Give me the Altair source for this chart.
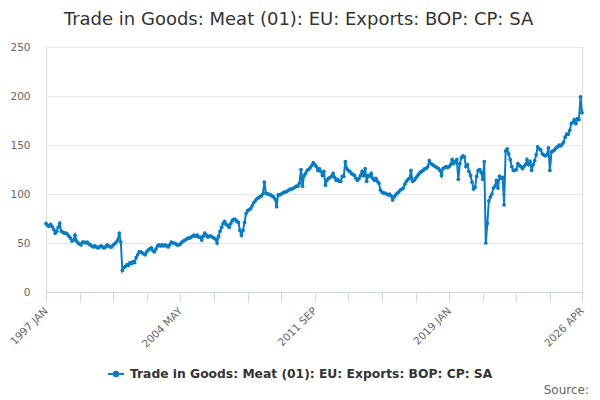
import altair as alt
import pandas as pd

TITLE = "Trade in Goods: Meat (01): EU: Exports: BOP: CP: SA"
SERIES = "Trade in Goods: Meat (01): EU: Exports: BOP: CP: SA"
SOURCE = "Source:"
MONTHS = ["JAN", "FEB", "MAR", "APR", "MAY", "JUN", "JUL", "AUG", "SEP", "OCT", "NOV", "DEC"]
LABELLED = ["1997 JAN", "2004 MAY", "2011 SEP", "2019 JAN", "2026 APR"]
Y_TICKS = [0, 50, 100, 150, 200, 250]

# monthly values
y1997 = [70, 68, 67, 69, 67, 64, 60, 62, 66, 70, 62, 61]
y1998 = [60, 60, 59, 57, 55, 52, 53, 58, 52, 50, 49, 48]
y1999 = [51, 51, 50, 51, 49, 48, 47, 46, 47, 46, 45, 46]
y2000 = [47, 46, 45, 46, 48, 47, 46, 46, 48, 49, 51, 53]
y2001 = [60, 51, 22, 25, 26, 28, 27, 30, 29, 31, 30, 35]
y2002 = [38, 41, 41, 40, 39, 38, 41, 43, 44, 45, 42, 41]
y2003 = [44, 47, 48, 47, 48, 47, 48, 47, 46, 48, 51, 50]
y2004 = [50, 49, 48, 48, 49, 51, 52, 53, 54, 55, 55, 56]
y2005 = [57, 58, 57, 58, 56, 56, 53, 57, 60, 58, 56, 57]
y2006 = [57, 56, 55, 54, 50, 57, 62, 66, 70, 72, 69, 68]
y2007 = [66, 70, 73, 74, 74, 72, 71, 63, 58, 63, 71, 80]
y2008 = [83, 84, 85, 88, 91, 93, 95, 96, 97, 98, 100, 112]
y2009 = [101, 100, 100, 99, 98, 97, 95, 87, 99, 99, 100, 101]
y2010 = [102, 102, 103, 104, 105, 105, 106, 107, 108, 108, 111, 125]
y2011 = [108, 119, 121, 124, 125, 127, 129, 132, 130, 128, 124, 126]
y2012 = [123, 119, 123, 109, 114, 116, 117, 118, 121, 117, 114, 115]
y2013 = [113, 113, 118, 118, 133, 126, 124, 123, 121, 120, 119, 116]
y2014 = [114, 116, 119, 123, 119, 126, 113, 119, 118, 121, 116, 114]
y2015 = [116, 113, 111, 104, 102, 101, 101, 100, 99, 100, 98, 94]
y2016 = [97, 99, 101, 102, 104, 105, 106, 110, 113, 115, 116, 124]
y2017 = [113, 114, 116, 118, 120, 122, 123, 124, 126, 126, 128, 134]
y2018 = [131, 130, 129, 128, 127, 126, 124, 119, 126, 127, 128, 127]
y2019 = [128, 130, 135, 131, 133, 135, 115, 131, 137, 139, 138, 128]
y2020 = [130, 123, 119, 112, 105, 107, 118, 124, 125, 122, 115, 133]
y2021 = [50, 70, 93, 97, 100, 106, 108, 114, 106, 118, 116, 117]
y2022 = [89, 144, 146, 141, 135, 128, 124, 124, 125, 131, 129, 128]
y2023 = [126, 128, 130, 135, 130, 133, 124, 130, 134, 140, 148, 146]
y2024 = [145, 141, 140, 139, 140, 147, 124, 143, 144, 145, 147, 148]
y2025 = [150, 149, 151, 153, 158, 161, 161, 165, 172, 173, 176, 172]
y2026 = [177, 176, 199, 183]

values = (y1997 + y1998 + y1999 + y2000 + y2001 + y2002 + y2003 + y2004 + y2005 + y2006
          + y2007 + y2008 + y2009 + y2010 + y2011 + y2012 + y2013 + y2014 + y2015 + y2016
          + y2017 + y2018 + y2019 + y2020 + y2021 + y2022 + y2023 + y2024 + y2025 + y2026)
periods = [f"{y} {m}" for y in range(1997, 2027) for m in MONTHS][:len(values)]
tick_cats = periods[0::22] + [periods[-1]]

df = pd.DataFrame({"period": periods, "value": values, "series": SERIES})

COLOR = "#0b7cc1"
FONT = "DejaVu Sans"
W, H = 536, 245
label_list = ",".join("'" + s + "'" for s in LABELLED)
label_expr = f"indexof([{label_list}], datum.value) >= 0 ? datum.value : ''"
legend_path = "M-1,0L1,0M-0.28,0A0.28,0.28,0,1,0,0.28,0A0.28,0.28,0,1,0,-0.28,0Z"

line = alt.Chart(df).mark_line(
    strokeWidth=2,
    point=alt.OverlayMarkDef(filled=True, size=14),
).encode(
    x=alt.X(
        "period:O",
        sort=periods,
        scale=alt.Scale(type="point", padding=0),
        axis=alt.Axis(
            values=tick_cats,
            labelExpr=label_expr,
            title=None,
            labelAngle=315,
            labelAlign="right",
            labelBaseline="middle",
            labelPadding=7,
            tickSize=10,
            tickColor="#ccd6eb",
            domainColor="#ccd6eb",
            labelColor="#666666",
            labelFontSize=10.5,
            labelFont=FONT,
            grid=False,
            labelOverlap=False,
            labelFlush=False,
        ),
    ),
    y=alt.Y(
        "value:Q",
        scale=alt.Scale(domain=[0, 250]),
        axis=alt.Axis(
            values=Y_TICKS,
            title=None,
            domain=False,
            ticks=False,
            gridColor="#e6e6e6",
            labelColor="#666666",
            labelFontSize=10.5,
            labelFont=FONT,
            labelPadding=16,
        ),
    ),
    color=alt.Color(
        "series:N",
        scale=alt.Scale(range=[COLOR]),
        legend=alt.Legend(
            title=None,
            orient="none",
            legendX=61,
            legendY=318,
            padding=0,
            symbolType=legend_path,
            symbolSize=256,
            symbolStrokeWidth=2,
            symbolFillColor=COLOR,
            symbolStrokeColor=COLOR,
            labelFont=FONT,
            labelFontSize=12.3,
            labelFontWeight="bold",
            labelColor="#333333",
            labelLimit=600,
            labelOffset=5,
        ),
    ),
)

title = alt.Chart(alt.Data(values=[{"t": TITLE}])).mark_text(
    align="center", baseline="alphabetic", font=FONT, fontSize=18, color="#333333"
).encode(text="t:N", x=alt.value(252.5), y=alt.value(-22.5))

source = alt.Chart(alt.Data(values=[{"t": SOURCE}])).mark_text(
    align="right", baseline="alphabetic", font=FONT, fontSize=12, color="#666666"
).encode(text="t:N", x=alt.value(543), y=alt.value(347))

chart = alt.layer(line, title, source).properties(
    width=W,
    height=H,
    autosize=alt.AutoSizeParams(type="none"),
    padding={"left": 38, "top": 39, "right": 10, "bottom": 106},
).configure_view(stroke=None).configure(font=FONT)

chart.save("out.html", embed_options={"renderer": "svg", "actions": False})
